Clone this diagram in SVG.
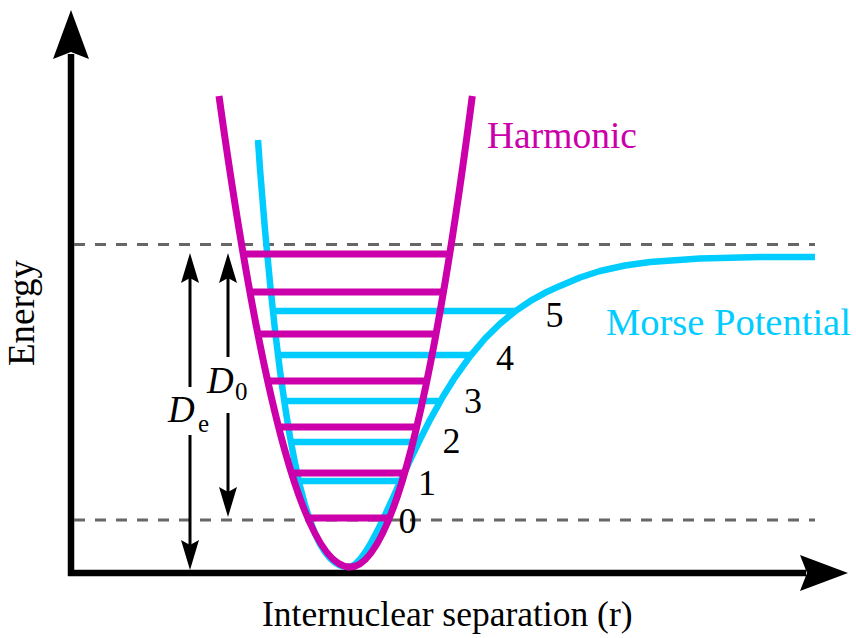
<svg xmlns="http://www.w3.org/2000/svg" width="856" height="638" viewBox="0 0 856 638">
  <style>
    .axis { stroke: #000; stroke-width: 6.5; fill: none; }
    .head { fill: #000; stroke: none; }
    .dash { stroke: #666; stroke-width: 3; stroke-dasharray: 11 10; fill: none; }
    .morse { stroke: #00CCFF; stroke-width: 6.5; fill: none; stroke-linejoin: round; }
    .mlev { stroke: #00CCFF; stroke-width: 6.5; }
    .harm { stroke: #CC00AA; stroke-width: 7; fill: none; }
    .hlev { stroke: #CC00AA; stroke-width: 7; }
    .dim { stroke: #000; stroke-width: 3; fill: none; marker-end: url(#ah); }
  </style>
  <defs>
    <marker id="ah" markerUnits="userSpaceOnUse" viewBox="0 -10 31 20" refX="5" refY="0" markerWidth="31" markerHeight="20" orient="auto">
      <path d="M0,-9 L30,0 L0,9 L5,0 Z" fill="#000"/>
    </marker>
  </defs>

  <g id="axes">
    <line class="axis" x1="71" y1="54" x2="71" y2="576"/>
    <line class="axis" x1="68" y1="573" x2="806" y2="573"/>
    <path class="head" d="M71,10 L89,59 L71,52 L53,59 Z"/>
    <path class="head" d="M848,573 L800,555 L807,573 L800,591 Z"/>
  </g>

  <g id="dissociation-lines">
    <line class="dash" x1="74" y1="244.5" x2="815" y2="244.5"/>
    <line class="dash" x1="74" y1="520" x2="815" y2="520"/>
  </g>

  <g id="morse">
    <polyline class="morse" points="258,140 260,169 265,230 270,283 275,330 280,371 285,406 290,437 295,463 300,486 305,505 310,520.5 315,533.5 320,544 325,552 330,558.3 335,562.6 340,565.4 344,566.6 348,567 352,566.1 356,563.4 360,559.4 366,551.2 372,541.1 378,529.6 385,515.1 392,499.9 400,482.2 410,460.4 420,439.5 430,419.8 443,396.5 455,377.3 470,356.3 485,338.5 500,323.7 515,311.4 530,301.2 545,292.8 560,285.9 580,277.5 600,271 625,265.5 650,262 700,258.5 760,257 815,257"/>
    <line class="mlev" x1="299" y1="481" x2="400.6" y2="481"/>
    <line class="mlev" x1="291" y1="442" x2="418.8" y2="442"/>
    <line class="mlev" x1="284" y1="401" x2="440.4" y2="401"/>
    <line class="mlev" x1="278" y1="355" x2="471" y2="355"/>
    <line class="mlev" x1="273" y1="311" x2="516" y2="311"/>
  </g>

  <g id="harmonic">
    <path class="harm" d="M219,96 Q284.5,567 350,567 Q411.2,567 472.3,96"/>
    <line class="hlev" x1="243.3" y1="254" x2="449.7" y2="254"/>
    <line class="hlev" x1="250" y1="292" x2="443.4" y2="292"/>
    <line class="hlev" x1="258" y1="334" x2="436" y2="334"/>
    <line class="hlev" x1="267.8" y1="381" x2="426.8" y2="381"/>
    <line class="hlev" x1="278.6" y1="427" x2="416.7" y2="427"/>
    <line class="hlev" x1="291.5" y1="473" x2="404.6" y2="473"/>
    <line class="hlev" x1="307.8" y1="518" x2="389.4" y2="518"/>
  </g>

  <g id="connectors">
    <line class="dim" x1="190" y1="387" x2="190" y2="278"/>
    <line class="dim" x1="190" y1="435" x2="190" y2="545"/>
    <line class="dim" x1="228" y1="357" x2="228" y2="278"/>
    <line class="dim" x1="228" y1="413" x2="228" y2="492"/>
  </g>

  <g id="labels" font-family="'Liberation Serif', 'Times New Roman', serif">
    <text x="487" y="148" style="font-family:'Liberation Serif',serif;font-size:37.5px;fill:#CC00AA">Harmonic</text>
    <text x="606" y="335" style="font-family:'Liberation Serif',serif;font-size:38.5px;fill:#00CCFF">Morse Potential</text>
    <text transform="translate(34,313) rotate(-90)" text-anchor="middle" style="font-family:'Liberation Serif',serif;font-size:37px;fill:#000">Energy</text>
    <text x="262" y="626" style="font-family:'Liberation Serif',serif;font-size:35.5px;fill:#000">Internuclear separation (r)</text>
    <text x="168" y="422" style="font-family:'Liberation Serif',serif;font-size:37px;font-style:italic;fill:#000">D</text>
    <text x="198" y="432" style="font-family:'Liberation Serif',serif;font-size:25px;fill:#000">e</text>
    <text x="207" y="393" style="font-family:'Liberation Serif',serif;font-size:37px;font-style:italic;fill:#000">D</text>
    <text x="235" y="400" style="font-family:'Liberation Serif',serif;font-size:25px;fill:#000">0</text>
    <text x="407.5" y="533" text-anchor="middle" style="font-family:'Liberation Serif',serif;font-size:36px;fill:#000">0</text>
    <text x="427" y="495" text-anchor="middle" style="font-family:'Liberation Serif',serif;font-size:36px;fill:#000">1</text>
    <text x="451.5" y="453" text-anchor="middle" style="font-family:'Liberation Serif',serif;font-size:36px;fill:#000">2</text>
    <text x="473" y="413" text-anchor="middle" style="font-family:'Liberation Serif',serif;font-size:36px;fill:#000">3</text>
    <text x="505" y="370" text-anchor="middle" style="font-family:'Liberation Serif',serif;font-size:36px;fill:#000">4</text>
    <text x="554.5" y="327" text-anchor="middle" style="font-family:'Liberation Serif',serif;font-size:36px;fill:#000">5</text>
  </g>
</svg>
